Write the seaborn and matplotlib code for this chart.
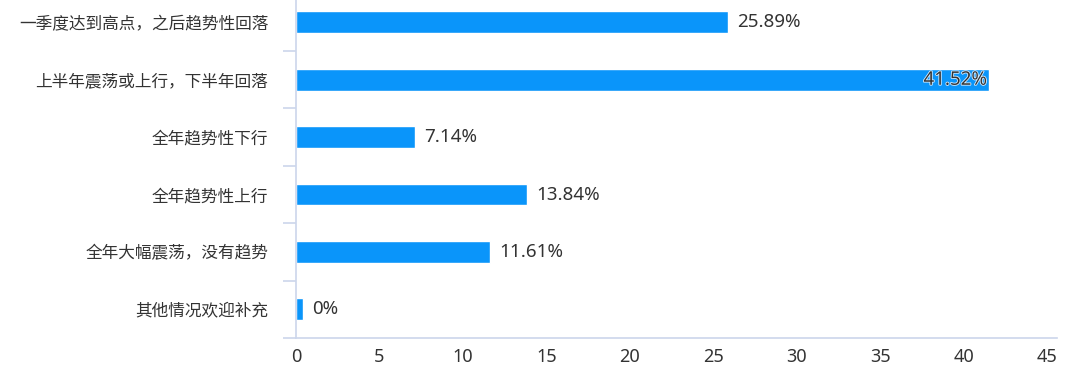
import matplotlib
matplotlib.use("Agg")
import matplotlib.pyplot as plt
import matplotlib.patheffects as pe
from matplotlib.ticker import FixedLocator
import seaborn as sns
import pandas as pd
import numpy as np

categories = ["一季度达到高点，之后趋势性回落", "上半年震荡或上行，下半年回落", "全年趋势性下行",
              "全年趋势性上行", "全年大幅震荡，没有趋势", "其他情况欢迎补充"]
values = [25.89, 41.52, 7.14, 13.84, 11.61, 0.0]
labels = ["25.89%", "41.52%", "7.14%", "13.84%", "11.61%", "0%"]
xticks = [0, 5, 10, 15, 20, 25, 30, 35, 40, 45]

sns.set_theme(style="white")
plt.rcParams['font.family'] = ['Noto Sans CJK SC', 'DejaVu Sans']

MIN_BAR = 0.4  # minimum visible bar length for zero values
df = pd.DataFrame({"cat": categories, "val": values,
                   "shown": [max(v, MIN_BAR) for v in values]})

fig = plt.figure(figsize=(10.8, 3.86), dpi=100)
ax = fig.add_axes([0.2741, 0.1244, 0.9787 - 0.2741, 1.0163 - 0.1244])

sns.barplot(data=df, x="shown", y="cat", orient="h", color="#0A95FA",
            saturation=1, width=0.38, ax=ax)

ax.set_xlim(0, 45.6)
ax.set_ylim(len(categories) - 0.5, -0.5)
ax.set_xticks(xticks)
ax.set_xlabel("")
ax.set_ylabel("")

axis_col = "#CCD6EB"
for s in ["top", "right"]:
    ax.spines[s].set_visible(False)
for s in ["left", "bottom"]:
    ax.spines[s].set_color(axis_col)
    ax.spines[s].set_linewidth(1.2)

FS = 12
NUMFONT = ["Noto Sans", "DejaVu Sans"]
ax.tick_params(axis="x", length=0, pad=7, labelsize=13, labelcolor="#333333")
for t in ax.get_xticklabels():
    t.set_family(NUMFONT)
ax.tick_params(axis="y", which="major", left=False, length=0, pad=20, labelsize=FS,
               labelcolor="#333333")
ax.yaxis.set_minor_locator(FixedLocator(np.arange(-0.5, len(categories), 1.0)))
ax.tick_params(axis="y", which="minor", left=True, length=9.5, width=1.2, color=axis_col)

VFS = 13.5
for i, (v, lab) in enumerate(zip(values, labels)):
    shown = max(v, MIN_BAR)
    if v > 40:
        t = ax.text(shown - 0.1, i, lab, ha="right", va="center", fontsize=VFS,
                    color="#333333", family=NUMFONT)
        t.set_path_effects([pe.withStroke(linewidth=1.2, foreground="#D6ECFF")])
    else:
        ax.text(shown + 0.55, i, lab, ha="left", va="center", fontsize=VFS,
                color="#333333", family=NUMFONT)

fig.savefig("out.png", dpi=100)
